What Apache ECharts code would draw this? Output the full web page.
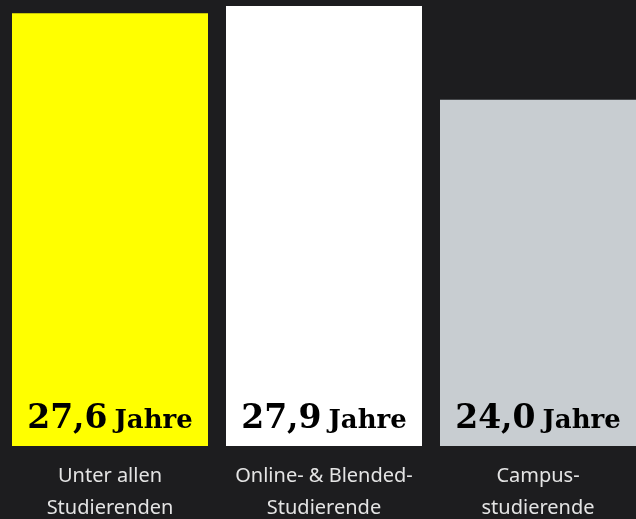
<!DOCTYPE html>
<html>
<head>
<meta charset="utf-8">
<script src="https://cdn.jsdelivr.net/npm/echarts@6/dist/echarts.min.js"></script>
<style>
  html, body { margin: 0; padding: 0; background: #1d1d1f; }
  #chart { width: 636px; height: 519px; }
</style>
</head>
<body>
<div id="chart"></div>
<script>
const categories = ['Unter allen\nStudierenden', 'Online- & Blended-\nStudierende', 'Campus-\nstudierende']
const ages = [27.6, 27.9, 24.0]
const barColors = ['#ffff00', '#ffffff', '#c8cdd1']

const chart = echarts.init(document.getElementById('chart'))

chart.setOption({
  backgroundColor: '#1d1d1f',
  animation: false,
  grid: {
    left: 3,
    width: 642,
    top: 6,
    bottom: 73,
    containLabel: false,
    outerBoundsMode: 'none'
  },
  xAxis: {
    type: 'category',
    data: categories,
    axisLine: { show: false },
    axisTick: { show: false },
    axisLabel: {
      interval: 0,
      color: '#e4e4e4',
      fontFamily: 'Noto Sans',
      fontSize: 20,
      lineHeight: 32,
      margin: 14
    }
  },
  yAxis: {
    type: 'value',
    min: 9.6,
    max: 27.9,
    show: false,
    splitLine: { show: false }
  },
  series: [{
    type: 'bar',
    barWidth: 196,
    data: ages.map((v, i) => ({
      value: v,
      itemStyle: { color: barColors[i] }
    })),
    label: {
      show: true,
      position: 'insideBottom',
      distance: 10,
      formatter: p => '{v|' + p.value.toFixed(1).replace('.', ',') + '}{u|Jahre}',
      rich: {
        v: {
          fontFamily: 'DejaVu Serif',
          fontWeight: 'bold',
          fontSize: 33,
          color: '#000',
          verticalAlign: 'bottom',
          lineHeight: 36
        },
        u: {
          fontFamily: 'DejaVu Serif',
          fontWeight: 'bold',
          fontSize: 26,
          color: '#000',
          verticalAlign: 'bottom',
          lineHeight: 36,
          padding: [0, 0, 2, 7]
        }
      }
    }
  }]
})
</script>
</body>
</html>
